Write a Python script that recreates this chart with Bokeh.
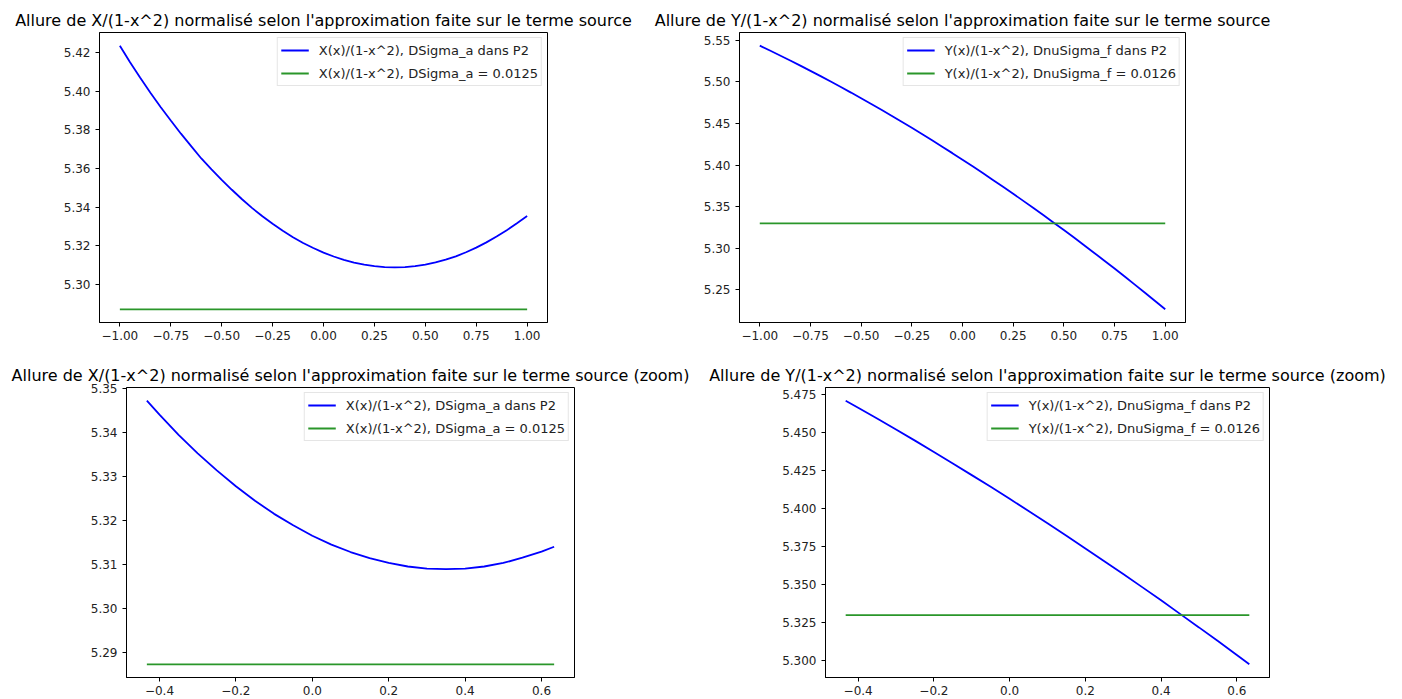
from bokeh.plotting import figure
from bokeh.layouts import row, column
from bokeh.models import FixedTicker, CustomJSTickFormatter, Range1d, Legend, LegendItem
from bokeh.embed import file_html
from bokeh.resources import INLINE

FONT = "DejaVu Sans"

# ---- data ----
x_full = [-1.00, -0.95, -0.90, -0.85, -0.80, -0.75, -0.70, -0.65, -0.60, -0.55, -0.50,
          -0.45, -0.40, -0.35, -0.30, -0.25, -0.20, -0.15, -0.10, -0.05, 0.00,
          0.05, 0.10, 0.15, 0.20, 0.25, 0.30, 0.35, 0.40, 0.45, 0.50,
          0.55, 0.60, 0.65, 0.70, 0.75, 0.80, 0.85, 0.90, 0.95, 1.00]
X_full = [5.4235, 5.4149, 5.4069, 5.3992, 5.3918, 5.3848, 5.3780, 5.3716, 5.3652, 5.3596, 5.3541,
          5.3490, 5.3441, 5.3395, 5.3353, 5.3314, 5.3278, 5.3245, 5.3215, 5.3189, 5.3165,
          5.3145, 5.3128, 5.3114, 5.3103, 5.3095, 5.3090, 5.3089, 5.3090, 5.3095, 5.3103,
          5.3115, 5.3129, 5.3146, 5.3167, 5.3191, 5.3218, 5.3248, 5.3281, 5.3317, 5.3354]
Y_full = [5.5436, 5.5378, 5.5318, 5.5258, 5.5196, 5.5133, 5.5070, 5.5005, 5.4939, 5.4872, 5.4804,
          5.4735, 5.4665, 5.4594, 5.4521, 5.4448, 5.4373, 5.4298, 5.4221, 5.4144, 5.4065,
          5.3985, 5.3905, 5.3822, 5.3739, 5.3655, 5.3570, 5.3484, 5.3397, 5.3308, 5.3219,
          5.3129, 5.3037, 5.2944, 5.2851, 5.2756, 5.2660, 5.2563, 5.2465, 5.2366, 5.2266]

x_zoom = [-0.433, -0.40, -0.35, -0.30, -0.25, -0.20, -0.15, -0.10, -0.05, 0.00,
          0.05, 0.10, 0.15, 0.20, 0.25, 0.30, 0.35, 0.40, 0.45, 0.50, 0.55, 0.60, 0.633]
X_zoom = [5.3473, 5.3441, 5.3395, 5.3353, 5.3314, 5.3278, 5.3245, 5.3215, 5.3189, 5.3165,
          5.3145, 5.3128, 5.3114, 5.3103, 5.3095, 5.3090, 5.3089, 5.3090, 5.3095, 5.3103,
          5.3115, 5.3129, 5.3140]
Y_zoom = [5.4711, 5.4665, 5.4594, 5.4521, 5.4448, 5.4373, 5.4298, 5.4221, 5.4144, 5.4065,
          5.3985, 5.3905, 5.3822, 5.3739, 5.3655, 5.3570, 5.3484, 5.3397, 5.3308, 5.3219,
          5.3129, 5.3037, 5.2976]

X_const = 5.2872   # DSigma_a = 0.0125
Y_const = 5.3300   # DnuSigma_f = 0.0126

titles = [
    "Allure de X/(1-x^2) normalisé selon l'approximation faite sur le terme source",
    "Allure de Y/(1-x^2) normalisé selon l'approximation faite sur le terme source",
    "Allure de X/(1-x^2) normalisé selon l'approximation faite sur le terme source (zoom)",
    "Allure de Y/(1-x^2) normalisé selon l'approximation faite sur le terme source (zoom)",
]
labels_X = ["X(x)/(1-x^2), DSigma_a dans P2", "X(x)/(1-x^2), DSigma_a = 0.0125"]
labels_Y = ["Y(x)/(1-x^2), DnuSigma_f dans P2", "Y(x)/(1-x^2), DnuSigma_f = 0.0126"]

xticks_full = [-1.0, -0.75, -0.5, -0.25, 0.0, 0.25, 0.5, 0.75, 1.0]
xticks_zoom = [-0.4, -0.2, 0.0, 0.2, 0.4, 0.6]
yticks_1 = [5.30, 5.32, 5.34, 5.36, 5.38, 5.40, 5.42]
yticks_2 = [5.25, 5.30, 5.35, 5.40, 5.45, 5.50, 5.55]
yticks_3 = [5.29, 5.30, 5.31, 5.32, 5.33, 5.34, 5.35]
yticks_4 = [5.300, 5.325, 5.350, 5.375, 5.400, 5.425, 5.450, 5.475]

BLUE = "#0000ff"
GREEN = "#2a962a"
INK = "#222222"


def fmt(dec):
    return CustomJSTickFormatter(code=(
        "var s = Math.abs(tick).toFixed(%d);"
        "return (tick < -1e-9 ? '\\u2212' : '') + s;" % dec))


def auto_range(lo, hi):
    m = (hi - lo) * 0.05
    return Range1d(lo - m, hi + m)


def panel(xs, ys, const, labels, title, xticks, xdec, yticks, ydec, geo):
    ymin = min(min(ys), const)
    ymax = max(max(ys), const)
    p = figure(frame_width=geo["fw"], frame_height=geo["fh"],
               min_border_left=geo["l"], min_border_right=geo["r"],
               min_border_top=geo["t"], min_border_bottom=geo["b"],
               x_range=auto_range(xs[0], xs[-1]), y_range=auto_range(ymin, ymax),
               output_backend="svg", toolbar_location=None, tools="")
    p.title.text = title
    p.title.align = "center"
    p.title.text_font = FONT
    p.title.text_font_size = "16px"
    p.title.text_font_style = "normal"
    p.title.text_color = "black"
    p.title.standoff = 5
    p.grid.visible = False
    p.outline_line_color = "black"
    p.outline_line_alpha = 1
    p.background_fill_color = "white"
    p.border_fill_color = "white"

    p.xaxis.ticker = FixedTicker(ticks=xticks)
    p.yaxis.ticker = FixedTicker(ticks=yticks)
    p.xaxis.formatter = fmt(xdec)
    p.yaxis.formatter = fmt(ydec)
    for ax in (p.xaxis, p.yaxis):
        ax.axis_line_color = "black"
        ax.major_tick_line_color = "black"
        ax.minor_tick_line_color = None
        ax.major_tick_in = 0
        ax.major_tick_out = 4
        ax.major_label_text_font = FONT
        ax.major_label_text_font_size = "12px"
        ax.major_label_text_color = INK
    p.xaxis.major_label_standoff = 4
    p.yaxis.major_label_standoff = 5

    r1 = p.line(xs, ys, line_color=BLUE, line_width=1.8)
    r2 = p.line([xs[0], xs[-1]], [const, const], line_color=GREEN, line_width=1.8)

    leg = Legend(items=[LegendItem(label=labels[0], renderers=[r1]),
                        LegendItem(label=labels[1], renderers=[r2])],
                 location="top_right")
    leg.label_text_font = FONT
    leg.label_text_font_size = "13px"
    leg.label_text_color = INK
    leg.glyph_width = 28
    leg.glyph_height = 18
    leg.label_height = 18
    leg.label_standoff = 10
    leg.padding = 3
    leg.spacing = 5
    leg.margin = 5
    leg.border_line_color = "#cccccc"
    leg.background_fill_alpha = 0.8
    p.add_layout(leg)
    return p


p1 = panel(x_full, X_full, X_const, labels_X, titles[0], xticks_full, 2, yticks_1, 2,
           dict(fw=448, fh=290, l=99, r=93, t=32, b=30))
p2 = panel(x_full, Y_full, Y_const, labels_Y, titles[1], xticks_full, 2, yticks_2, 2,
           dict(fw=446, fh=290, l=99, r=209, t=32, b=30))
p3 = panel(x_zoom, X_zoom, X_const, labels_X, titles[2], xticks_zoom, 1, yticks_3, 2,
           dict(fw=448, fh=290, l=126, r=124, t=35, b=22))
p4 = panel(x_zoom, Y_zoom, Y_const, labels_Y, titles[3], xticks_zoom, 1, yticks_4, 3,
           dict(fw=444, fh=290, l=127, r=125, t=35, b=22))

layout = column(row(p1, p2, spacing=0), row(p3, p4, spacing=0), spacing=0)
open("out.html", "w").write(file_html(layout, INLINE))
